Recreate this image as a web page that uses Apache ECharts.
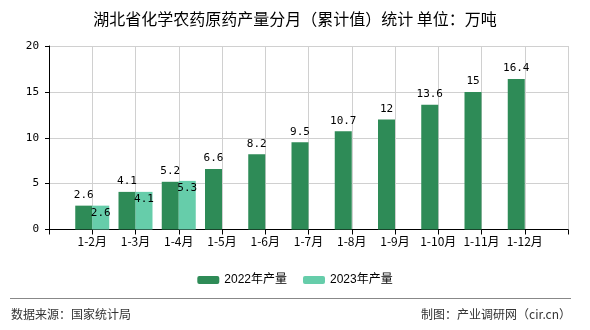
<!DOCTYPE html>
<html>
<head>
<meta charset="utf-8">
<script src="https://cdn.jsdelivr.net/npm/echarts@6/dist/echarts.min.js"></script>
<style>html,body{margin:0;padding:0;background:#fff;}#c{width:590px;height:330px;}</style>
</head>
<body>
<div id="c"></div>
<script>
const titleText = '湖北省化学农药原药产量分月（累计值）统计 单位：万吨';
const categories = ['', '1-2月', '1-3月', '1-4月', '1-5月', '1-6月', '1-7月', '1-8月', '1-9月', '1-10月', '1-11月', '1-12月', ''];
const series2022 = [null, 2.6, 4.1, 5.2, 6.6, 8.2, 9.5, 10.7, 12, 13.6, 15, 16.4, null];
const series2023 = [null, 2.6, 4.1, 5.3, null, null, null, null, null, null, null, null, null];
const seriesNames = ['2022年产量', '2023年产量'];
const yTicks = { min: 0, max: 20, interval: 5 };
const sourceText = '数据来源：国家统计局';
const makerText = '制图：产业调研网（cir.cn）';

const CJK = "'Noto Sans CJK SC', sans-serif";
const MONO = "'DejaVu Sans Mono', 'Noto Sans CJK SC', monospace";

const chart = echarts.init(document.getElementById('c'), null, { renderer: 'canvas' });
chart.setOption({
  animation: false,
  backgroundColor: '#ffffff',
  title: {
    text: titleText,
    left: 'center',
    top: 6,
    textStyle: { fontFamily: CJK, fontSize: 16, fontWeight: 'normal', color: '#000' }
  },
  legend: {
    data: seriesNames,
    left: 'center',
    top: 269,
    itemWidth: 22,
    itemHeight: 8,
    itemGap: 16,
    textStyle: { fontFamily: "'Liberation Sans', 'Noto Sans CJK SC', sans-serif", fontSize: 12, color: '#000' }
  },
  grid: { left: 49, right: 22, top: 46, bottom: 100.5, containLabel: false },
  xAxis: {
    type: 'category',
    data: categories,
    boundaryGap: false,
    axisLine: { lineStyle: { color: '#000', width: 1 } },
    axisTick: { show: true, length: 5, lineStyle: { color: '#000' } },
    axisLabel: { interval: 0, margin: 6, fontFamily: CJK, fontSize: 12, color: '#000' },
    splitLine: { show: true, lineStyle: { color: '#d0d0d0', width: 1 } }
  },
  yAxis: {
    type: 'value',
    min: yTicks.min,
    max: yTicks.max,
    interval: yTicks.interval,
    axisLine: { show: true, lineStyle: { color: '#000', width: 1 } },
    axisTick: { show: true, length: 4, lineStyle: { color: '#000' } },
    axisLabel: { margin: 10, fontFamily: MONO, fontSize: 11, color: '#000' },
    splitLine: { show: true, lineStyle: { color: '#d0d0d0', width: 1 } }
  },
  series: [
    {
      name: seriesNames[0],
      type: 'bar',
      data: series2022,
      barWidth: 17,
      barGap: '0%',
      itemStyle: { color: '#2E8B57' },
      label: { show: true, position: 'top', distance: 5, fontFamily: MONO, fontSize: 11, color: '#000' }
    },
    {
      name: seriesNames[1],
      type: 'bar',
      data: series2023,
      barWidth: 17,
      barGap: '0%',
      itemStyle: { color: '#66CDAA' },
      label: { show: true, position: 'insideTop', distance: 2, fontFamily: MONO, fontSize: 11, color: '#000' }
    }
  ],
  graphic: [
    { type: 'line', shape: { x1: 10, y1: 298.5, x2: 571, y2: 298.5 }, style: { stroke: '#888', lineWidth: 1.2 } },
    { type: 'text', left: 11, top: 308, style: { text: sourceText, fontFamily: CJK, fontSize: 12, fill: '#333' } },
    { type: 'text', right: 19, top: 308, style: { text: makerText, fontFamily: CJK, fontSize: 12, fill: '#333' } }
  ]
});
</script>
</body>
</html>
